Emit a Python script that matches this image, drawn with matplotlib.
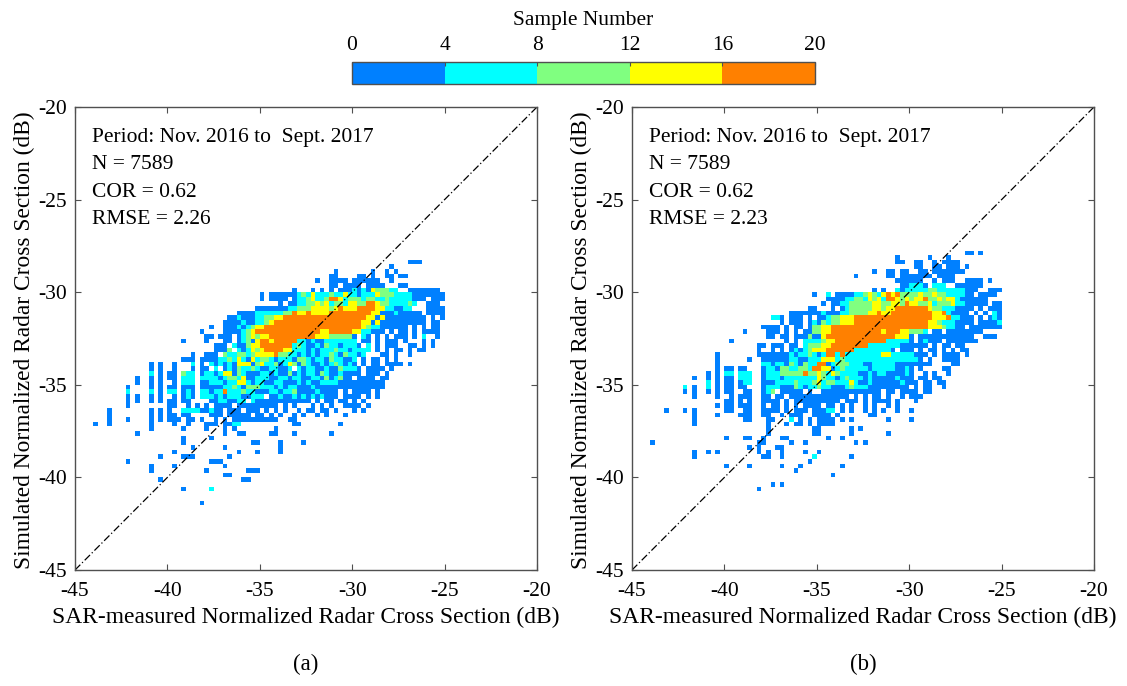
import numpy as np
import matplotlib
matplotlib.use("Agg")
import matplotlib.pyplot as plt
from matplotlib.colors import ListedColormap, BoundaryNorm

plt.rcParams['font.family'] = ['Liberation Serif', 'DejaVu Serif']
plt.rcParams['axes.unicode_minus'] = False

BIN_DB = 0.25
AXIS_MIN, AXIS_MAX = -45, -20
TICKS = [-45, -40, -35, -30, -25, -20]
COUNT_EDGES = [0, 4, 8, 12, 16, 20]
COUNT_COLORS = ['#0080FF', '#00FFFF', '#80FF80', '#FFFF00', '#FF8000']
# sample number read per colour class
CLASS_COUNTS = {'1': 2, '2': 6, '3': 10, '4': 14, '5': 18}

NOTES_A = ["Period: Nov. 2016 to  Sept. 2017", "N = 7589", "COR = 0.62", "RMSE = 2.26"]
NOTES_B = ["Period: Nov. 2016 to  Sept. 2017", "N = 7589", "COR = 0.62", "RMSE = 2.23"]

# (row index above -45 dB, classes per 0.25 dB bin in blocks of ten; "-" = ten empty bins)
ROWS_A = [
 (66, "- - - - - - - ..111....."),
 (65, "- - - - - - ........1."),
 (64, "- - - - - ......1... ....1..1.1"),
 (63, "- - - - - .....11... .11.1..11. 11........"),
 (62, "- - - - - ..1..1111. 111111..1."),
 (61, "- - - - - .....11.11 11.1111... 11........"),
 (60, "- - - - .......1.. .1.1.1.111 2121433322 ..1111111."),
 (59, "- - - - 1.11111123 2422232242 2122243332 2221111111"),
 (58, "- - - - 1.1111.122 3422355423 3323322322 222111.111"),
 (57, "- - - - ....1.1122 3343423324 4335543322 2232..111."),
 (56, "- - - .........1 1111112233 3444434544 4555544221 122...1111"),
 (55, "- - - .....11112 2222233544 5444455555 5555441112 11111.1111"),
 (54, "- - - ...1121112 2334455555 5555555555 5554414111 111111.1.1"),
 (53, "- - - ..11112112 2345555555 5555555555 5544141111 111111.11."),
 (52, "- - .........1 ..11121234 4555555555 5555555555 5543221111 11.1.1.11."),
 (51, "- - .......1.. ..11112345 5555555555 5554455555 4422111.1. 11.1.1111."),
 (50, "- - ........11 .111.12343 4455555555 5544433333 1.21.1.1.1 11.1.2..1."),
 (49, "- - ...1....1. ..11.12314 5545555522 1211222222 2.11.1.111 .1...1.1.."),
 (48, "- - - 111.211344 5555555232 1121322122 21.2.1.111 ..11.1.1.."),
 (47, "- - - 1113.21243 4555544222 1212223221 2222.1.1.1 1.1.11...."),
 (46, "- - .....1..11 1.32233234 4445332212 1212232132 212...11.1 ..1......."),
 (45, "- - ...111.111 1223242142 3321222133 2122132211 2.1.11.1.1"),
 (44, "- ......1.1. .1...2.1.2 1212144413 4223124313 2112123212 1.1.11.111 1.1......."),
 (43, "- ......1.1. .1...1.11. 2.12132232 1122112.21 2211211322 21.1111.1."),
 (42, "- ......2.1. 11.322.122 1244132111 2212113121 2213211211 11.111.1.."),
 (41, "- ...1..1.1. 11.222.222 2123324112 2211221221 1221312311 .1111.11.."),
 (40, "- ...1..1.1. .1.222.112 2212244212 2112211121 2112222111 1111111..."),
 (39, "- .1....1.1. 11.111.111 1122321333 2221212211 1211111111 1111111..."),
 (38, "- .2....2.1. 22.121.221 2252223221 1122122311 1121111.1. 1111.1...."),
 (37, "- .1.1..1.1. .1.121.222 1212221122 2.11211212 1212111.11 11.1.1...."),
 (36, "- .1.1..1.1. 11.11....1 1221122.21 1111111111 1.1.11.11. 1.1......."),
 (35, "- .1........ 11..1.1.1. 1111.11111 1111.1.1.. .1.1.1..11 11.1......"),
 (34, ".......1.. ......1.1. 1..2222112 11.111.111 .1.1.1..1. 11.11.1... 1.1......."),
 (33, ".......1.. ......1.1. 11.11....1 11.11111.1 1.1.1..1.1 ..1.1...1."),
 (32, ".......1.. .1....1.1. 111.11.1.. 1.1.111111 1111..11.."),
 (31, "....1..1.. ......1... .1..1...11 1.1122.... .......11. .......1.."),
 (30, "- ......1... ...1....1. ..1.1..... ...1......"),
 (29, "- ...1...... - ..1..11... ..11...1.. .....1...."),
 (28, "- - ...1.....1"),
 (27, "- - ...1...... ........11 ....1....1"),
 (26, "- - .....1.... ..1....... ....1....."),
 (25, "- - .1........ .....1...1 ....1....."),
 (24, "- ........1. ...111.... ...1......"),
 (23, "- .1........ .........1 11........"),
 (22, "- ......1... .1........ ..1......."),
 (21, "- ......1... ........1. .......111"),
 (20, "- - - ..11......"),
 (19, "- ........1. - ......11.."),
 (17, "- - ...1.....2"),
 (14, "- - .......1.."),
]

ROWS_B = [
 (68, "- - - - - - - ..11.1...."),
 (67, "- - - - - .......1.. ....1...1."),
 (66, "- - - - - .......11. .11..1.111 1........."),
 (65, "- - - - - - .11..11.11 1.1......."),
 (64, "- - - - - ..1..11.11 ..11.11111 11........"),
 (63, "- - - - ........1. .....11.11 11111.1111"),
 (62, "- - - - - .......111 111..1.111 ..1111.1.."),
 (61, "- - - - - ........11 2221.222.. 111111...."),
 (60, "- - - - - ..1.1..212 2222332222 22111..111"),
 (59, "- - - .........1 ..2.111122 3432454533 3343343322 2211.1111."),
 (58, "- - - - ..11112233 2434255434 3445334344 2111111..."),
 (57, "- - - - .1.1122333 3344334435 4433423334 2211111.11"),
 (56, "- - - ........11 ...1.12333 3344344555 5555433222 1111.1.111"),
 (55, "- - - ....111111 1211122333 3445445555 5555544521 111.1.1.21"),
 (54, "- - - 221.111.1. 1123344455 5555555555 5555544452 2111.1.121"),
 (53, "- - - ..1.111.12 1323344455 5555555555 5555443222 1111.11112"),
 (52, "- - ........11 11.1.11.13 3445555555 5555555555 5555444322 11.1111111"),
 (51, "- - ....1....1 11.1.1.113 3445555555 5555455544 3332.11.11 111111...."),
 (50, "- - .........1 1.11.11131 1455555555 5555555444 1.11111111 1111..111."),
 (49, "- - .1........ ...1.1.222 2344555555 5555522222 1.12111.11 11111....."),
 (48, "- - .......11. 111.11.233 3445555555 5222222211 1111.1.11. 11........"),
 (47, "- - .......1.. 1.1.121234 4455555522 2222221.11 1.1.11.1.1 .11......."),
 (46, "- ........1. .......111 1111212232 1255252222 2222442222 2111.1.111 1.1......."),
 (45, "- ........1. .....1..11 1111221122 2444232222 2222222222 221.1..111 1........."),
 (44, "- ........1. ........22 1221321322 5512333222 1122222111 11111....1 1........."),
 (43, "- ........1. 11.11...12 2133223325 5441232222 2122222112 1.1....11."),
 (42, "- ......1.1. 22.222..12 2233333533 4324322221 1212211112 1..1.1..1."),
 (41, "- ...1..1.1. 11.222..12 2212222222 4322123222 1211111211 1.11.11..."),
 (40, "- ......2.1. 11.122..11 1222232223 4233222421 1211111121 11.11.11.."),
 (39, "- .2.1..2.1. 11.11...12 2211132122 3221112322 2111111111 .1.11..1.."),
 (38, "- .1.1..1.1. 11..11..12 3.11111.1. .111111111 1111.11.11 11.11....."),
 (37, "- ...1....1. .1.111..11 .11.111111 1111111.1. 1.11.1..1. 111......."),
 (36, "- - 11.1.1..11 11.1.11111 11111.111. 1.1111.1.. .1........"),
 (35, "- ........1. 11.111..1. 11.1.1.111 1.11.1.1.. 1.1..1.1.."),
 (34, ".......1.. .1.1...... 11..11..11 11.1.111.1 1122.1.1.. 1.1.1..1.. 1........."),
 (33, "- ...1....1. ...111..11 ..1.111..1 111.1..... .11......."),
 (32, "- ...1...... ....11...1 1...2.1.1. 1111.1.1.. .....1.... 1........."),
 (31, "- ...1...... .........1 ...1.11.1. 1111......"),
 (30, "- - .........1 .........1 1......1.1"),
 (29, "- - .........1 .........1 1......1.. .....1...."),
 (28, "- - 1...11..1. ..11...... ..1..1...."),
 (27, "....1..... - .......11. ....1..1.. ........1. 1........."),
 (26, "- - .....1.1.. .11......."),
 (25, "- ...1..1.1. .......1.1 ..1....1.. 1........."),
 (24, "- ...1...... ........11 ..1......2 .......1.."),
 (23, "- - - ........1."),
 (22, "- - 1....1.... ..1...1... .....1...."),
 (21, "- - - .....1...."),
 (20, "- - - - ...1......"),
 (18, "- - - 1.1......."),
 (17, "- - .......1.."),
]


def to_grid(rows, n):
    grid = np.full((n, n), np.nan)
    for row, text in rows:
        line = "".join("." * 10 if tok == "-" else tok for tok in text.split())
        for col, ch in enumerate(line):
            if ch in CLASS_COUNTS and col < n:
                grid[row, col] = CLASS_COUNTS[ch]
    return grid


n_bins = int(round((AXIS_MAX - AXIS_MIN) / BIN_DB))
edges = np.linspace(AXIS_MIN, AXIS_MAX, n_bins + 1)
cmap = ListedColormap(COUNT_COLORS)
norm = BoundaryNorm(COUNT_EDGES, cmap.N)

W, H = 1127, 686
fig = plt.figure(figsize=(W / 100, H / 100), dpi=100)


def px_axes(left, top, right, bottom):
    return fig.add_axes([left / W, 1 - bottom / H, (right - left) / W, (bottom - top) / H])


SPINE = '#505050'


def panel(box, rows, notes, tag):
    left, top, right, bottom = box
    pw, ph = right - left, bottom - top
    ax = px_axes(*box)
    ax.pcolormesh(edges, edges, to_grid(rows, n_bins), cmap=cmap, norm=norm, shading='flat')
    ax.plot([AXIS_MIN, AXIS_MAX], [AXIS_MIN, AXIS_MAX], color='black', lw=0.9,
            dashes=(6, 2, 1, 2))
    ax.set_xlim(AXIS_MIN, AXIS_MAX)
    ax.set_ylim(AXIS_MIN, AXIS_MAX)
    ax.set_xticks(TICKS)
    ax.set_yticks(TICKS)
    ax.tick_params(direction='in', top=True, right=True, length=4, width=0.8, color=SPINE,
                   labelsize=15.5)
    ax.tick_params(axis='x', pad=9)
    ax.tick_params(axis='y', pad=6)
    for s in ax.spines.values():
        s.set_color(SPINE)
        s.set_linewidth(1.0)
    ax.set_xlabel("SAR-measured Normalized Radar Cross Section (dB)", fontsize=16.9, va='center')
    ax.xaxis.set_label_coords(0.5, (bottom - 617) / ph)
    ax.set_ylabel("Simulated Normalized Radar Cross Section (dB)", fontsize=16.8, va='center')
    ax.yaxis.set_label_coords(-51 / pw, 0.497)
    for txt, y in zip(notes, (-21.62, -23.08, -24.6, -26.05)):
        ax.text(-44.08, y, txt, fontsize=15.5, va='center', ha='left')
    ax.text(0.5, (bottom - 664) / ph, tag, transform=ax.transAxes, fontsize=16.5,
            ha='center', va='center')
    return ax


panel((75, 107, 537, 570), ROWS_A, NOTES_A, '(a)')
panel((632, 107, 1094, 570), ROWS_B, NOTES_B, '(b)')

cax = px_axes(352, 62, 815, 84)
sm = plt.cm.ScalarMappable(norm=norm, cmap=cmap)
cb = fig.colorbar(sm, cax=cax, orientation='horizontal', spacing='proportional', ticks=COUNT_EDGES)
cb.ax.xaxis.set_ticks_position('top')
cb.ax.xaxis.set_label_position('top')
cb.ax.tick_params(direction='in', length=3, width=0.8, color=SPINE, labelsize=15.5, pad=5)
cb.set_label("Sample Number", fontsize=15.5, va='center')
cb.ax.xaxis.set_label_coords(0.5, (84 - 20) / 22)
cb.outline.set_edgecolor(SPINE)
cb.outline.set_linewidth(1.0)

fig.savefig('out.png', dpi=100)
